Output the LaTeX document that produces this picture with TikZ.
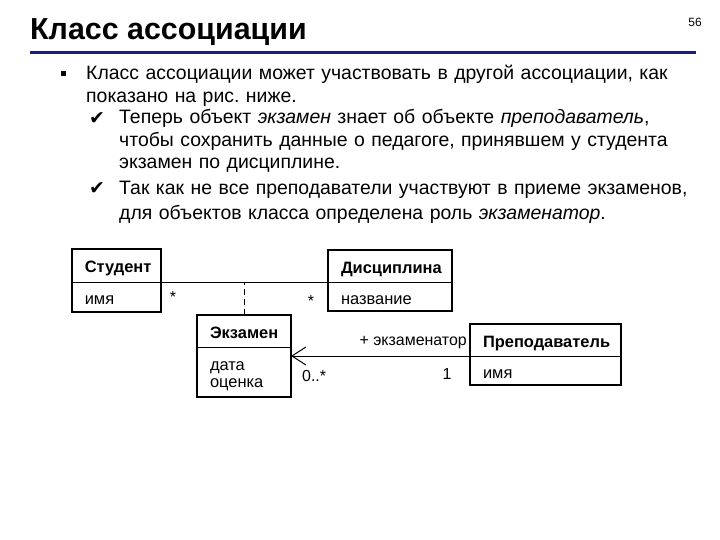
\documentclass[tikz,border=0pt]{standalone}
\usepackage{fontspec}
\setmainfont{Liberation Sans}
\newfontfamily\symfont{DejaVu Sans}
\usetikzlibrary{positioning, arrows.meta}
\definecolor{titleblue}{RGB}{30,30,120}
\frenchspacing

\tikzset{
  classname/.style={
    rectangle,
    draw,
    line width=0.9bp,
    outer sep=0pt,
    inner xsep=13bp,
    inner ysep=0pt,
    text width=#1,
    text height=15bp,
    text depth=0pt,
    align=left,
    minimum height=32bp,
    font=\fontsize{16.5}{19}\selectfont\bfseries},
  classattr/.style={
    classname=#1,
    font=\fontsize{16.5}{18}\selectfont},
  frame/.style={line width=2.3bp},
  assoc/.style={line width=1bp},
  lbl/.style={inner sep=0pt, font=\fontsize{16}{18}\selectfont},
  bodytext/.style={
    anchor=base west,
    inner sep=0pt,
    text width=600bp,
    align=left,
    font=\fontsize{19.5}{22.5}\selectfont},
}

\begin{document}
\begin{tikzpicture}[x=1bp, y=-1bp]
  \fill[white] (0,0) rectangle (720,540);
  \useasboundingbox (0,0) rectangle (720,540);

  % title
  \node[anchor=base west, inner sep=0pt,
  font=\fontsize{30.5}{32}\selectfont\bfseries] (title) at (30,40) {Класс ассоциации};
  \node[anchor=base, inner sep=0pt, font=\fontsize{12}{14}\selectfont] (pnum) at (695,27) {56};
  \draw[titleblue, line width=3bp] (30,53) -- (696,53);

  % text
  \node[fill, minimum size=5bp, inner sep=0pt] (bul) at (63,74) {};
  \node[bodytext] (p1) at (86,80) {Класс ассоциации может участвовать в другой ассоциации, как\\
    показано на рис. ниже.};
  \node[anchor=base, inner sep=0pt, font=\symfont\fontsize{19}{22}\selectfont] (chk1) at (97,125) {✔};
  \node[bodytext] (p2) at (119,124) {Теперь объект \textit{экзамен} знает об объекте \textit{преподаватель},\\
    чтобы сохранить данные о педагоге, принявшем у студента\\
    экзамен по дисциплине.};
  \node[anchor=base, inner sep=0pt, font=\symfont\fontsize{19}{22}\selectfont] (chk2) at (97,195) {✔};
  \node[bodytext, font=\fontsize{19.5}{24.5}\selectfont] (p3) at (119,195) {Так как не все преподаватели участвуют в приеме экзаменов,\\
    для объектов класса определена роль \textit{экзаменатор}.};

  % classes
  \node[classname=63bp, minimum height=33bp] (stud) at (116.3,265.5) {Студент};
  \node[classattr=63bp, minimum height=30bp, below=0pt of stud] (stud-a) {имя};

  \node[classname=98bp] (disc) at (390,266) {Дисциплина};
  \node[classattr=98bp, minimum height=29bp, below=0pt of disc] (disc-a) {название};

  \node[classname=68bp] (exam) at (244,331) {Экзамен};
  \node[classattr=68bp, minimum height=50bp, text depth=19bp, below=0pt of exam] (exam-a) {дата\\оценка};

  \node[classname=125bp] (teach) at (545.5,340) {Преподаватель};
  \node[classattr=125bp, minimum height=29bp, below=0pt of teach] (teach-a) {имя};

  \foreach \c in {stud, disc, exam, teach}
    \draw[frame] (\c.north west) rectangle (\c-a.south east);

  % links
  \draw[assoc] (stud.south east) -- (disc.south west);
  \draw[assoc, dashed, dash pattern=on 6bp off 4bp] (exam.north) -- (exam.north |- stud.south east);
  \draw[assoc, -{Straight Barb[length=14bp, width=18bp]}] (teach.south west) -- (teach.south west -| exam-a.east);

  \node[lbl, anchor=base] (m-stud) at (173,302) {*};
  \node[lbl, anchor=base] (m-disc) at (311,306) {*};
  \node[lbl, anchor=base east] (role) at (467,345) {+ экзаменатор};
  \node[lbl, anchor=base west] (m-exam) at (302,381) {0..*};
  \node[lbl, anchor=base] (m-teach) at (447,379) {1};
\end{tikzpicture}
\end{document}
